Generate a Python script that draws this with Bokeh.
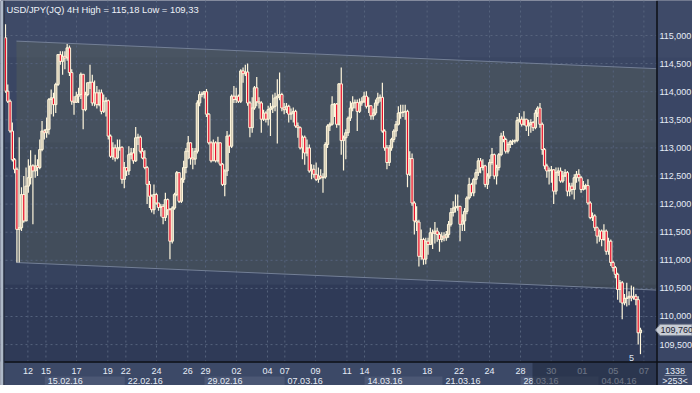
from bokeh.plotting import figure
from bokeh.models import Range1d
from bokeh.core.properties import value
from bokeh.embed import file_html
from bokeh.resources import INLINE

# ---------------- data ----------------
title_text = "USD/JPY(JQ) 4H High = 115,18 Low = 109,33"
first_open = 114.96
closes = [
    114.01, 113.83, 113.30, 112.79, 112.62, 111.55, 111.58, 112.17, 111.70, 112.32,
    112.47, 112.68, 112.59, 112.68, 112.65, 112.97, 113.30, 113.27, 113.33, 113.86,
    113.89, 113.77, 114.13, 114.66, 114.54, 114.63, 114.60, 114.78, 114.34, 113.83,
    113.81, 113.92, 113.95, 114.31, 113.68, 113.95, 114.16, 114.17, 113.80, 113.98,
    113.77, 113.98, 113.65, 113.83, 113.84, 113.21, 112.85, 113.00, 112.82, 113.00,
    113.01, 112.44, 112.65, 112.59, 112.88, 112.91, 112.77, 113.18, 113.19, 112.94,
    112.82, 112.65, 112.35, 112.14, 111.90, 112.17, 112.02, 111.94, 111.96, 111.76,
    112.08, 111.90, 111.34, 111.93, 112.17, 112.56, 112.05, 112.44, 112.65, 112.94,
    113.09, 112.82, 112.80, 112.94, 113.80, 113.95, 113.96, 114.00, 113.60, 113.09,
    112.77, 113.09, 112.77, 113.09, 112.71, 112.35, 112.59, 113.21, 113.03, 113.92,
    113.86, 113.92, 113.83, 114.37, 114.32, 114.35, 113.80, 113.36, 113.71, 114.07,
    113.82, 113.80, 113.51, 113.62, 113.51, 113.68, 113.71, 113.74, 113.89, 113.92,
    113.95, 113.71, 113.68, 113.74, 113.60, 113.62, 113.65, 113.39, 113.36, 113.00,
    113.19, 112.91, 113.00, 112.59, 112.62, 112.53, 112.44, 112.50, 112.47, 112.48,
    113.06, 113.39, 113.42, 113.77, 113.78, 113.42, 114.14, 113.13, 113.18, 113.27,
    113.53, 113.71, 113.80, 113.81, 113.65, 113.80, 113.83, 113.92, 113.74, 113.75,
    113.57, 113.62, 113.80, 113.89, 113.90, 113.30, 113.00, 112.74, 113.00, 113.15,
    113.30, 113.42, 113.62, 113.63, 113.64, 113.65, 112.53, 112.81, 112.02, 111.70,
    111.68, 111.07, 111.37, 111.02, 111.34, 111.28, 111.49, 111.48, 111.52, 111.46,
    111.37, 111.43, 111.40, 111.46, 111.64, 111.85, 111.93, 111.95, 111.96, 111.64,
    111.70, 111.87, 112.11, 112.35, 112.20, 112.44, 112.56, 112.77, 112.65, 112.68,
    112.35, 112.50, 112.74, 112.88, 112.50, 112.65, 112.88, 113.21, 113.15, 112.94,
    113.06, 113.11, 113.12, 113.13, 113.49, 113.51, 113.42, 113.51, 113.39, 113.42,
    113.45, 113.36, 113.62, 113.71, 113.42, 112.97, 112.68, 112.59, 112.60, 112.61,
    112.23, 112.56, 112.59, 112.41, 112.50, 112.56, 112.23, 112.32, 112.26, 112.47,
    112.53, 112.47, 112.26, 112.32, 112.33, 112.02, 111.76, 111.79, 111.58, 111.43,
    111.52, 111.37, 111.52, 111.16, 111.34, 110.96, 110.87, 110.75, 110.48, 110.60,
    110.24, 110.32, 110.33, 110.36, 110.33, 110.36, 110.30, 109.71, 109.76,
]
highs = [
    115.20, 114.13, 113.86, 113.45, 112.82, 112.65, 113.19, 112.30, 112.50, 112.65,
    112.80, 112.96, 112.71, 112.88, 112.80, 113.15, 113.48, 113.33, 113.54, 113.89,
    114.04, 113.98, 114.16, 114.66, 114.72, 114.72, 114.72, 114.85, 114.82, 114.40,
    113.92, 114.00, 114.07, 114.34, 114.31, 114.00, 114.16, 114.48, 114.30, 114.20,
    114.10, 114.04, 114.04, 113.95, 113.90, 113.86, 113.24, 113.10, 113.06, 113.15,
    113.15, 113.03, 112.75, 112.65, 113.03, 113.00, 113.00, 113.37, 113.25, 113.22,
    113.00, 112.96, 112.68, 112.41, 112.17, 112.35, 112.20, 112.02, 112.00, 112.00,
    112.20, 112.10, 111.93, 111.96, 112.20, 112.59, 112.56, 112.47, 112.77, 113.00,
    113.21, 113.10, 113.00, 113.00, 113.85, 114.01, 114.00, 114.01, 114.05, 113.62,
    113.12, 113.15, 113.12, 113.20, 113.10, 112.73, 112.62, 113.30, 113.24, 113.95,
    114.10, 114.07, 113.95, 114.40, 114.43, 114.48, 114.50, 113.83, 113.90, 114.10,
    114.26, 113.90, 113.83, 113.68, 113.65, 113.75, 113.80, 113.95, 113.98, 114.22,
    114.34, 113.98, 113.80, 113.80, 113.77, 113.70, 113.72, 113.68, 113.45, 113.38,
    113.22, 113.22, 113.15, 113.06, 112.71, 112.70, 112.74, 112.65, 112.62, 112.55,
    113.10, 113.42, 113.45, 113.92, 113.80, 113.80, 114.15, 114.43, 113.22, 113.33,
    113.56, 113.83, 113.92, 113.86, 113.86, 113.88, 113.90, 114.00, 114.01, 113.90,
    113.76, 113.70, 113.86, 113.98, 113.95, 114.16, 113.33, 113.05, 113.05, 113.18,
    113.33, 113.48, 113.74, 113.77, 113.77, 113.77, 113.68, 112.94, 112.90, 112.05,
    111.96, 111.72, 111.55, 111.40, 111.40, 111.40, 111.58, 111.55, 111.68, 111.58,
    111.50, 111.50, 111.50, 111.52, 111.70, 111.93, 112.05, 112.17, 112.17, 111.97,
    111.82, 111.93, 112.14, 112.47, 112.38, 112.47, 112.62, 112.82, 112.82, 112.80,
    112.70, 112.55, 112.80, 113.00, 112.90, 112.70, 112.91, 113.27, 113.30, 113.18,
    113.10, 113.14, 113.15, 113.15, 113.55, 113.62, 113.56, 113.65, 113.52, 113.50,
    113.51, 113.48, 113.68, 113.74, 113.80, 113.45, 113.00, 112.72, 112.65, 112.68,
    112.62, 112.65, 112.65, 112.65, 112.59, 112.62, 112.59, 112.38, 112.38, 112.53,
    112.59, 112.62, 112.50, 112.41, 112.36, 112.44, 112.05, 111.85, 111.82, 111.60,
    111.55, 111.55, 111.64, 111.55, 111.40, 111.37, 110.99, 110.90, 110.78, 110.65,
    110.63, 110.40, 110.60, 110.45, 110.55, 110.53, 110.40, 110.36, 109.80,
]
lows = [
    113.98, 113.80, 113.27, 112.76, 112.55, 110.96, 110.96, 111.52, 111.67, 111.70,
    112.20, 112.35, 111.64, 112.47, 112.50, 112.62, 112.94, 113.15, 113.18, 113.24,
    113.60, 113.56, 113.62, 114.10, 114.48, 114.30, 114.40, 114.55, 114.28, 113.77,
    113.59, 113.80, 113.80, 113.87, 113.33, 113.65, 113.92, 114.05, 113.75, 113.74,
    113.70, 113.74, 113.60, 113.62, 113.56, 113.15, 112.82, 112.79, 112.76, 112.80,
    112.95, 112.36, 112.28, 112.50, 112.52, 112.80, 112.72, 112.75, 113.05, 112.90,
    112.80, 112.62, 112.00, 111.93, 111.85, 111.82, 111.99, 111.88, 111.78, 111.64,
    111.70, 111.80, 111.02, 111.30, 111.90, 112.14, 112.02, 112.02, 112.38, 112.55,
    112.80, 112.70, 112.62, 112.70, 112.90, 113.74, 113.90, 113.88, 113.55, 113.06,
    112.74, 112.77, 112.74, 112.74, 112.68, 112.32, 112.14, 112.50, 112.91, 113.00,
    113.80, 113.80, 113.80, 113.80, 114.16, 114.28, 113.75, 113.19, 113.27, 113.68,
    113.74, 113.70, 113.27, 113.48, 113.45, 113.40, 113.21, 113.62, 113.65, 113.08,
    113.85, 113.65, 113.60, 113.62, 113.45, 113.50, 113.45, 113.36, 113.18, 112.97,
    112.80, 112.70, 112.85, 112.56, 112.44, 112.47, 112.41, 112.38, 112.44, 112.20,
    112.45, 113.00, 113.30, 113.40, 113.55, 113.36, 113.40, 112.88, 112.60, 112.80,
    113.21, 113.48, 113.65, 113.70, 113.30, 113.62, 113.75, 113.80, 113.70, 113.62,
    113.50, 113.50, 113.58, 113.75, 113.82, 113.27, 112.95, 112.62, 112.68, 112.95,
    113.10, 113.20, 113.40, 113.52, 113.55, 113.50, 112.30, 112.50, 111.97, 111.46,
    111.52, 110.89, 111.01, 110.92, 110.93, 111.10, 111.28, 111.20, 111.30, 111.33,
    111.15, 111.32, 111.34, 111.35, 111.40, 111.60, 111.78, 111.85, 111.88, 111.34,
    111.52, 111.52, 111.82, 112.08, 112.14, 112.14, 112.35, 112.50, 112.55, 112.60,
    112.30, 112.27, 112.45, 112.70, 112.44, 112.35, 112.60, 112.85, 113.10, 112.90,
    112.90, 113.00, 113.05, 113.08, 113.10, 113.45, 113.38, 113.40, 113.30, 113.21,
    113.27, 113.30, 113.33, 113.55, 113.36, 112.88, 112.62, 112.47, 112.35, 112.38,
    112.00, 112.17, 112.50, 112.38, 112.38, 112.48, 112.14, 112.14, 112.17, 112.08,
    112.38, 112.40, 112.20, 112.24, 112.26, 111.99, 111.73, 111.70, 111.52, 111.30,
    111.33, 111.25, 111.35, 111.10, 111.10, 110.90, 110.80, 110.68, 110.30, 110.25,
    109.95, 110.20, 110.18, 110.20, 110.27, 110.30, 110.20, 109.50, 109.33,
]
last_price = 109.76
last_price_label = "109,760"

price_ticks = [109.5, 110.0, 110.5, 111.0, 111.5, 112.0, 112.5, 113.0, 113.5, 114.0, 114.5, 115.0]
price_tick_labels = ["109,500", "110,000", "110,500", "111,000", "111,500", "112,000",
                     "112,500", "113,000", "113,500", "114,000", "114,500", "115,000"]

day_tick_idx = [9.8, 17.7, 31.1, 44.8, 52.7, 66.1, 79.8, 87.6, 101.1, 114.7, 122.3, 135.7,
                149.5, 157.2, 171.1, 184.6, 198.5, 211.9, 225.5, 238.9, 252.5, 266.1, 279.5]
day_tick_labels = ["12", "15", "17", "19", "22", "24", "26", "29", "02", "04", "07", "09",
                   "11", "14", "16", "18", "22", "24", "28", "30", "01", "05", "07"]
week_start_idx = [17.2, 52.2, 87.1, 122.2, 157.2, 191.3, 225.5, 259.6]
week_labels = ["15.02.16", "22.02.16", "29.02.16", "07.03.16", "14.03.16", "21.03.16",
               "28.03.16", "04.04.16"]
week_shaded = [True, False, True, False, True, False, True, False]

channel_x = [4.8, 285.0]
channel_upper = [114.90, 114.41]
channel_lower = [110.96, 110.47]

bars_total_label = "1338"
bars_visible_label = ">253<"
countdown_label = "5"

# ---------------- derived ----------------
opens = [first_open] + closes[:-1]
n = len(closes)
idx = list(range(n))
tops = [max(o, c) for o, c in zip(opens, closes)]
bots = [min(o, c) for o, c in zip(opens, closes)]
his = [max(h, t) for h, t in zip(highs, tops)]
los = [min(l, b) for l, b in zip(lows, bots)]
up_i = [i for i in idx if closes[i] >= opens[i]]
dn_i = [i for i in idx if closes[i] < opens[i]]

FONT = value("Liberation Sans")
FS = value("9px")
CREAM = "#fff6dc"
TXT = "#e6ecf6"

W, H = 692, 385
p = figure(width=W, height=H,
           x_range=Range1d(-2.189, 300.78), y_range=Range1d(108.7722, 115.6228),
           output_backend="svg", toolbar_location=None, min_border=0,
           x_axis_type=None, y_axis_type=None, title=None)
p.outline_line_color = None
p.background_fill_color = "#3a4663"
p.border_fill_color = "#3a4663"
p.extra_x_ranges = {"px": Range1d(0, W)}
p.extra_y_ranges = {"px": Range1d(H, 0)}
PX = dict(x_range_name="px", y_range_name="px")
frame_right = channel_x[1]

# background bands of the plot area
p.quad(left=0, right=656, top=[0, 57, 142, 284], bottom=[57, 142, 284, 361],
       fill_color=["#3e4a67", "#3a4663", "#36425e", "#2f3a57"], line_color=None, **PX)

# channel
p.patch(x=[channel_x[0], channel_x[1], channel_x[1], channel_x[0]],
        y=[channel_upper[0], channel_upper[1], channel_lower[1], channel_lower[0]],
        fill_color=(130, 135, 75), fill_alpha=0.17, line_color=None)

# grid
p.segment(x0=p.x_range.start, x1=frame_right, y0=price_ticks, y1=price_ticks,
          line_color="#56637d", line_dash="2 3", line_width=1)
p.segment(x0=day_tick_idx, x1=day_tick_idx, y0=0, y1=361, line_color="#56637d",
          line_dash="2 3", line_width=1, y_range_name="px")

p.line(channel_x, channel_upper, line_color="#737f96", line_width=1)
p.line(channel_x, channel_lower, line_color="#737f96", line_width=1)

# candles
p.segment(x0=idx, x1=idx, y0=los, y1=his, line_color=CREAM, line_width=1.2)
p.vbar(x=up_i, width=1.0, top=[tops[i] for i in up_i], bottom=[bots[i] for i in up_i],
       fill_color="#cfc7b0", line_color=CREAM, line_width=1)
p.vbar(x=dn_i, width=1.0, top=[tops[i] for i in dn_i], bottom=[bots[i] for i in dn_i],
       fill_color="#e8102c", line_color=CREAM, line_width=1)

p.text(x=[631], y=[357], text=[countdown_label], text_font=FONT, text_font_size=FS,
       text_color="#dde4f0", text_align="center", text_baseline="middle", **PX)

# window edge on the left
p.quad(left=0, right=3, top=0, bottom=H, fill_color="#aeb9c8", line_color=None, **PX)
p.segment(x0=3.5, x1=3.5, y0=0, y1=H, line_color="#1c2230", line_width=1, **PX)

# right price panel
p.quad(left=657, right=W, top=0, bottom=361, fill_color="#3a4665", line_color=None, **PX)
p.quad(left=657, right=W, top=0, bottom=57, fill_color="#3e4a68", line_color=None, **PX)
p.text(x=[659] * len(price_ticks), y=price_ticks, text=price_tick_labels, text_font=FONT,
       text_font_size=FS, text_color=TXT, text_align="left", text_baseline="middle",
       x_range_name="px")

# bottom time strip
p.quad(left=4, right=W, top=362, bottom=H, fill_color="#3c4967", line_color=None, **PX)
week_end_idx = week_start_idx[1:] + [frame_right]
sl = [week_start_idx[i] for i in range(len(week_labels)) if week_shaded[i]]
sr = [week_end_idx[i] for i in range(len(week_labels)) if week_shaded[i]]
p.quad(left=sl, right=sr, top=376, bottom=385, fill_color="#4b5774", line_color=None,
       y_range_name="px")
p.text(x=day_tick_idx, y=[370.5] * len(day_tick_idx), text=day_tick_labels, text_font=FONT,
       text_font_size=FS, text_color=TXT, text_align="center", text_baseline="middle",
       y_range_name="px")
p.text(x=week_start_idx, y=[380.5] * len(week_labels), text=week_labels, text_font=FONT,
       text_font_size=FS, text_color=TXT, text_align="left", text_baseline="middle",
       x_offset=3, y_range_name="px")
p.quad(left=532, right=656, top=362, bottom=H, fill_color="#222b40", fill_alpha=0.62,
       line_color=None, **PX)

p.text(x=[674.5, 674.5], y=[370.5, 380.5], text=[bars_total_label, bars_visible_label],
       text_font=FONT, text_font_size=FS, text_color=TXT, text_align="center",
       text_baseline="middle", **PX)
p.segment(x0=664, x1=686, y0=375, y1=375, line_color="#8591a6", line_width=1, **PX)

# separators
p.segment(x0=656.5, x1=656.5, y0=0, y1=H, line_color="#0c0f16", line_width=1.5, **PX)
p.segment(x0=4, x1=W, y0=361.5, y1=361.5, line_color="#0c0f16", line_width=1.5, **PX)

# last price marker
p.patch(x=[655, 659.5, W - 0.5, W - 0.5, 659.5],
        y=[last_price, last_price + 0.1, last_price + 0.1, last_price - 0.1, last_price - 0.1],
        fill_color="#c8cdd5", line_color="#7c8596", line_width=1, x_range_name="px")
p.text(x=[660], y=[last_price], text=[last_price_label], text_font=FONT, text_font_size=FS,
       text_color="#1b2232", text_align="left", text_baseline="middle", x_range_name="px")

# title
p.text(x=[6], y=[9], text=[title_text], text_font=FONT, text_font_size=value("9.4px"),
       text_color="#eef2f8", text_align="left", text_baseline="middle", **PX)

open("out.html", "w").write(file_html(p, INLINE))
